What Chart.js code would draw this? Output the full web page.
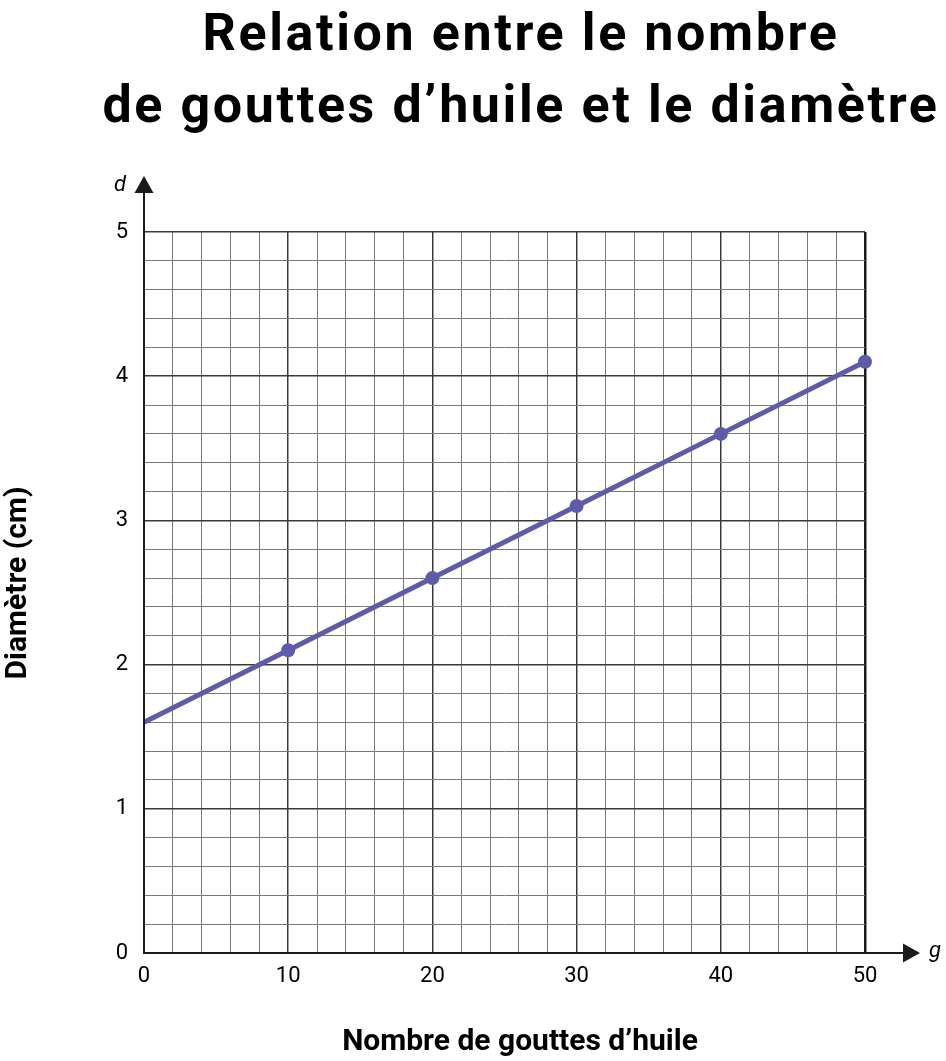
<!DOCTYPE html>
<html lang="fr">
<head>
<meta charset="utf-8">
<title>Relation entre le nombre de gouttes d’huile et le diamètre</title>
<script src="https://cdn.jsdelivr.net/npm/chart.js@4/dist/chart.umd.min.js"></script>
<style>
    html, body { margin: 0; padding: 0; background: #fff; }
    #wrap { position: relative; width: 946px; height: 1061px; overflow: hidden; }
    #titre {
        position: absolute; left: 96px; top: -3px; width: 850px;
        text-align: center; font-family: Roboto, sans-serif; font-weight: 700;
        font-size: 52px; line-height: 72px; color: #000; margin: 0;
        letter-spacing: 2.6px; white-space: nowrap;
    }
    canvas { position: absolute; left: 0; top: 0; }
</style>
</head>
<body>
<div id="wrap">
    <canvas id="graphique" width="946" height="1061"></canvas>
    <h1 id="titre">Relation entre le nombre<br>de gouttes d’huile et le diamètre</h1>
</div>
<script>
// Données
const gouttes = [0, 10, 20, 30, 40, 50];
const diametre = [1.6, 2.1, 2.6, 3.1, 3.6, 4.1];
const rayonsPoints = [0, 7, 7, 7, 7, 7];
const ticksX = [0, 10, 20, 30, 40, 50];
const ticksY = [0, 1, 2, 3, 4, 5];
const titreX = 'Nombre de gouttes d’huile';
const titreY = 'Diamètre (cm)';

const couleurLigne = '#5e5ba9';
const policeTexte = 'Roboto, sans-serif';

// Flèches des axes, lettres d et g, titres des axes
const flechesAxes = {
    id: 'flechesAxes',
    afterDraw(chart) {
        const ctx = chart.ctx;
        const x = chart.scales.x;
        const y = chart.scales.y;
        const x0 = x.getPixelForValue(0);
        const y0 = y.getPixelForValue(0);
        const top = chart.chartArea.top;
        const right = chart.chartArea.right;

        ctx.save();
        ctx.strokeStyle = '#1a1a1a';
        ctx.fillStyle = '#1a1a1a';
        ctx.lineWidth = 2;

        // axe vertical
        ctx.beginPath();
        ctx.moveTo(x0, y0 + 1);
        ctx.lineTo(x0, top - 40);
        ctx.stroke();
        ctx.beginPath();
        ctx.moveTo(x0, top - 56);
        ctx.lineTo(x0 - 9.5, top - 39);
        ctx.lineTo(x0 + 9.5, top - 39);
        ctx.closePath();
        ctx.fill();

        // axe horizontal
        ctx.beginPath();
        ctx.moveTo(x0 - 1, y0);
        ctx.lineTo(right + 40, y0);
        ctx.stroke();
        ctx.beginPath();
        ctx.moveTo(right + 55, y0);
        ctx.lineTo(right + 38, y0 - 9.5);
        ctx.lineTo(right + 38, y0 + 9.5);
        ctx.closePath();
        ctx.fill();

        // lettres
        ctx.font = 'italic 22px ' + policeTexte;
        ctx.textAlign = 'center';
        ctx.textBaseline = 'middle';
        ctx.fillStyle = '#000';
        ctx.fillText('d', x0 - 24, top - 47);
        ctx.fillText('g', right + 70, y0 - 2);

        // titres des axes
        ctx.font = 'bold 30px ' + policeTexte;
        ctx.fillText(titreX, 520, 1042);
        ctx.translate(18, 583);
        ctx.rotate(-Math.PI / 2);
        ctx.fillText(titreY, 0, 0);
        ctx.restore();
    }
};

new Chart(document.getElementById('graphique'), {
    type: 'line',
    data: {
        datasets: [{
            label: 'Diamètre',
            data: gouttes.map((g, i) => ({ x: g, y: diametre[i] })),
            borderColor: couleurLigne,
            backgroundColor: couleurLigne,
            borderWidth: 5,
            pointRadius: rayonsPoints,
            pointHoverRadius: rayonsPoints,
            pointBorderWidth: 0,
            tension: 0,
            clip: false
        }]
    },
    options: {
        responsive: false,
        animation: false,
        layout: {
            padding: { top: 232, right: 81, bottom: 0, left: 0 }
        },
        plugins: {
            legend: { display: false },
            tooltip: { enabled: false }
        },
        scales: {
            x: {
                type: 'linear',
                min: 0,
                max: 50,
                afterFit(scale) { scale.height = 108; },
                afterBuildTicks(scale) {
                    const t = [];
                    for (let v = 0; v <= 50; v += 2) t.push({ value: v });
                    scale.ticks = t;
                },
                border: { display: false },
                grid: {
                    drawTicks: false,
                    color: c => c.tick.value === 50 ? '#1a1a1a' : (c.tick.value % 10 === 0 ? '#3a3a3a' : '#7a7a7a'),
                    lineWidth: c => c.tick.value === 50 ? 2.5 : (c.tick.value % 10 === 0 ? 1.5 : 1)
                },
                ticks: {
                    autoSkip: false,
                    maxRotation: 0,
                    padding: 10,
                    color: '#000',
                    font: { family: policeTexte, size: 22 },
                    callback: v => ticksX.includes(v) ? String(v) : ''
                }
            },
            y: {
                type: 'linear',
                min: 0,
                max: 5,
                afterFit(scale) { scale.width = 144; },
                afterBuildTicks(scale) {
                    const t = [];
                    for (let i = 0; i <= 25; i++) t.push({ value: Math.round(i * 2) / 10 });
                    scale.ticks = t;
                },
                border: { display: false },
                grid: {
                    drawTicks: false,
                    color: c => Number.isInteger(c.tick.value) ? '#3a3a3a' : '#7a7a7a',
                    lineWidth: c => Number.isInteger(c.tick.value) ? 1.5 : 1
                },
                ticks: {
                    autoSkip: false,
                    padding: 16,
                    color: '#000',
                    font: { family: policeTexte, size: 22 },
                    callback: v => ticksY.includes(v) ? String(v) : ''
                }
            }
        }
    },
    plugins: [flechesAxes]
});
</script>
</body>
</html>
